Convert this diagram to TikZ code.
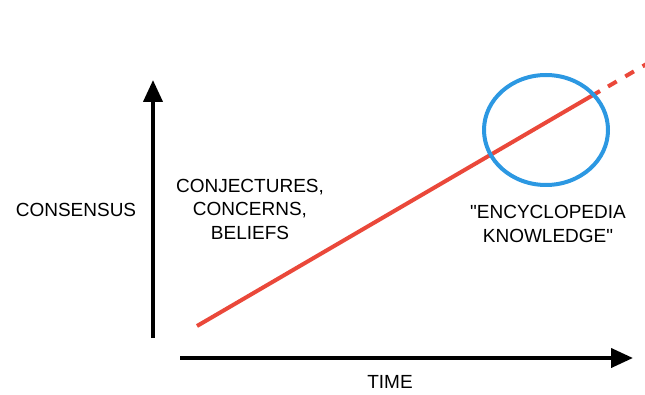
\documentclass[tikz,border=0pt]{standalone}
\usepackage{fontspec}
\setmainfont{Liberation Sans}[Ligatures=TeXOff]
\usetikzlibrary{arrows.meta}

\definecolor{trendred}{RGB}{234,72,58}
\definecolor{ringblue}{RGB}{44,152,226}

\tikzset{
    axis/.style={line width=4pt, -{Triangle[length=22pt,width=19pt]}},
    lbl/.style={align=center, font=\fontsize{19}{23.5}\selectfont, inner sep=0pt},
}

\begin{document}
\begin{tikzpicture}[x=1pt,y=-1pt]
    \useasboundingbox (0,0) rectangle (645,395);
    \draw[axis] (153,338) -- (153,80);
    \draw[axis] (180,358) -- (633,358);

    \draw [trendred, line width=4pt] (197,326) -- (600,91);
    \draw [trendred, line width=4pt, dash pattern=on 10pt off 10pt] (608,86.5) -- (650,62);

    \draw [ringblue, line width=4pt] (546,130) ellipse (62 and 55);

    \node[lbl] (cons) at (76,210) {CONSENSUS};
    \node[lbl] (conj) at (250,209) {CONJECTURES,\\CONCERNS,\\BELIEFS};
    \node[lbl] (ency) at (548,224) {"ENCYCLOPEDIA\\KNOWLEDGE"};
    \node[lbl] (time) at (390,382) {TIME};
\end{tikzpicture}
\end{document}
